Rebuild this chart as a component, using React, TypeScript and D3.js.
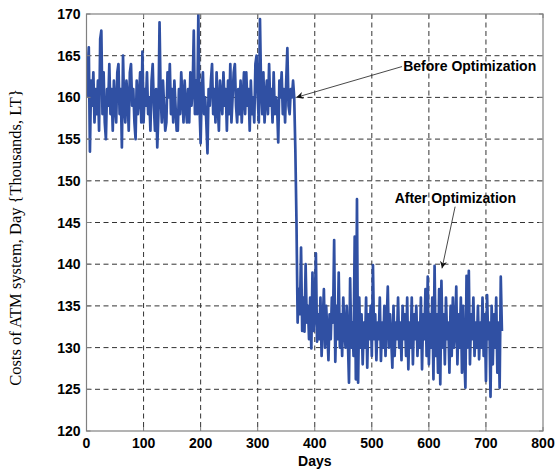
import React from 'react';
import * as d3 from 'd3';

// daily costs (thousands LT), every second day
const dayStep = 2;
const beforeStart = 0;
const beforeCosts = [
  160, 163, 166, 153.5, 162, 159, 163, 157, 161, 158,
  162, 156, 167, 168, 158, 163, 157, 155, 161, 159,
  164, 158, 161, 156, 162, 159, 157, 163, 164, 158,
  161, 154, 165, 159, 157, 162, 160, 156, 163, 164,
  159, 161, 157, 155, 162, 158, 160, 163, 157, 165.5,
  157, 161, 159, 163, 158, 160, 156, 162, 164, 159,
  156, 161, 154, 158, 169, 160, 157, 162, 159, 156,
  157, 163, 160, 164, 158, 161, 157, 162, 159, 156,
  156, 161, 158, 163, 160, 157, 162, 159, 157, 161,
  157, 163, 159, 161, 168, 158, 162, 158, 170, 159,
  154.5, 161, 163, 158, 160, 157, 153.3, 161, 159, 162,
  164, 158, 161, 157, 163, 159, 156, 162, 160, 158,
  163, 159, 161, 156, 162, 158, 164, 157, 160, 163,
  164, 159, 157, 161, 158, 162, 157, 160, 163, 158,
  163, 159, 161, 156, 162, 158, 160, 157, 164, 165,
  160, 157, 169.4, 161, 158, 163, 157, 160, 162, 158,
  164, 159, 161, 157, 163, 158, 160, 159, 154.6, 162,
  160, 163, 158, 161, 157, 162, 165.9, 159, 158, 161,
  160, 162, 160,
];
const afterStart = 366;
const afterCosts = [
  153.7, 145, 133, 137, 134, 142, 132, 136, 131.9, 140,
  133, 135, 131, 136, 129.9, 139, 132, 134, 141.3, 130.7,
  134, 131, 136, 129, 133, 137, 130, 135, 132, 128.5,
  134, 131, 136, 133, 142.9, 128.3, 135, 131, 139, 130,
  134, 129, 136, 132, 130, 135, 131, 125.8, 138.3, 130,
  133, 129, 143.3, 126.2, 147.8, 125.8, 136, 130, 134, 128,
  133, 130, 136, 127.6, 134, 131, 135, 129, 139.9, 131,
  134, 128.5, 133, 131, 136, 128.4, 133, 130, 135, 129,
  133, 137.3, 130, 134, 131, 127.6, 135, 129, 133, 131,
  136, 130, 133, 128.5, 135, 131, 134, 129, 136, 127.4,
  133, 130, 136, 128, 134, 131, 135, 129, 133, 130,
  136, 127.4, 134, 131, 137, 129, 138.5, 128, 134, 130,
  136, 126.2, 139.8, 129, 134, 127, 137, 125.6, 138, 130,
  134, 128, 136, 131, 133, 127, 135, 129, 136, 130,
  132, 137.3, 128, 134, 130, 136, 127, 135, 129, 125.2,
  138.6, 130, 139.2, 128, 134, 131, 136, 129, 133, 130,
  135, 128.6, 133, 130, 136, 129, 134, 126, 136.3, 131,
  133, 124.1, 135, 128, 134, 130, 136, 127, 133, 125.2,
  138.5, 132,
];

const xTicks = [0, 100, 200, 300, 400, 500, 600, 700, 800];
const yTicks = [120, 125, 130, 135, 140, 145, 150, 155, 160, 165, 170];

// annotation anchors in data units
const notes = [
  { text: 'Before Optimization', at: [555, 163.2], tail: [553, 163.7], tip: [367.5, 160] },
  { text: 'After Optimization', at: [540, 147.3], tail: [646, 146.9], tip: [623, 139.5] },
];

const W = 556;
const H = 471;
const margin = { top: 14, right: 13, bottom: 40, left: 86.5 };

export default function App() {
  const x = d3.scaleLinear().domain([0, 800]).range([margin.left, W - margin.right]);
  const y = d3.scaleLinear().domain([120, 170]).range([H - margin.bottom, margin.top]);

  const pts: [number, number][] = [
    ...beforeCosts.map((v, i) => [beforeStart + i * dayStep, v] as [number, number]),
    ...afterCosts.map((v, i) => [afterStart + i * dayStep, v] as [number, number]),
  ];
  const line = d3.line<[number, number]>().x(d => x(d[0])).y(d => y(d[1]));

  const x0 = x(0), x1 = x(800), y0 = y(120), y1 = y(170);
  const tickFont = { fontFamily: 'Liberation Sans, Arial, sans-serif', fontWeight: 'bold' as const, fontSize: 14 };

  return (
    <svg width={W} height={H} style={{ position: 'absolute', left: 0, top: 0, background: '#fff' }}>
      <defs>
        <clipPath id="plot"><rect x={x0} y={y1} width={x1 - x0} height={y0 - y1} /></clipPath>
        <marker id="arr" viewBox="0 0 10 10" refX="10" refY="5" markerWidth="9" markerHeight="7" orient="auto" markerUnits="userSpaceOnUse">
          <path d="M0,0 L10,5 L0,10 L3,5 Z" fill="#111" />
        </marker>
      </defs>

      {/* grid */}
      {xTicks.slice(1, -1).map(t => (
        <line key={'gx' + t} x1={x(t)} x2={x(t)} y1={y1} y2={y0} stroke="#333" strokeWidth={1} strokeDasharray="5,3.5" />
      ))}
      {yTicks.slice(1, -1).map(t => (
        <line key={'gy' + t} x1={x0} x2={x1} y1={y(t)} y2={y(t)} stroke="#333" strokeWidth={1} strokeDasharray="5,3.5" />
      ))}

      {/* series */}
      <path d={line(pts) ?? ''} fill="none" stroke="#3050a3" strokeWidth={2.7} strokeLinejoin="round" clipPath="url(#plot)" />

      {/* box and ticks */}
      <rect x={x0} y={y1} width={x1 - x0} height={y0 - y1} fill="none" stroke="#808080" strokeWidth={1.2} />
      {xTicks.map(t => (
        <g key={'tx' + t}>
          <line x1={x(t)} x2={x(t)} y1={y0} y2={y0 - 4} stroke="#808080" />
          <line x1={x(t)} x2={x(t)} y1={y1} y2={y1 + 4} stroke="#808080" />
          <text x={x(t)} y={y0 + 17} textAnchor="middle" {...tickFont}>{t}</text>
        </g>
      ))}
      {yTicks.map(t => (
        <g key={'ty' + t}>
          <line x1={x0} x2={x0 + 4} y1={y(t)} y2={y(t)} stroke="#808080" />
          <line x1={x1} x2={x1 - 4} y1={y(t)} y2={y(t)} stroke="#808080" />
          <text x={x0 - 6} y={y(t) + 5} textAnchor="end" {...tickFont}>{t}</text>
        </g>
      ))}

      {/* axis titles */}
      <text x={(x0 + x1) / 2} y={H - 5} textAnchor="middle" {...tickFont}>Days</text>
      <text transform={`translate(21,${(y0 + y1) / 2 + 15}) rotate(-90)`} textAnchor="middle"
        fontFamily="Liberation Serif, Times New Roman, serif" fontSize={16.5}>
        Costs of ATM system, Day {'{'}Thousands, LT{'}'}
      </text>

      {/* annotations */}
      {notes.map(n => (
        <g key={n.text}>
          <line x1={x(n.tail[0])} y1={y(n.tail[1])} x2={x(n.tip[0])} y2={y(n.tip[1])} stroke="#333" strokeWidth={0.9} markerEnd="url(#arr)" />
          <text x={x(n.at[0])} y={y(n.at[1])} {...tickFont} fontSize={14}>{n.text}</text>
        </g>
      ))}
    </svg>
  );
}
